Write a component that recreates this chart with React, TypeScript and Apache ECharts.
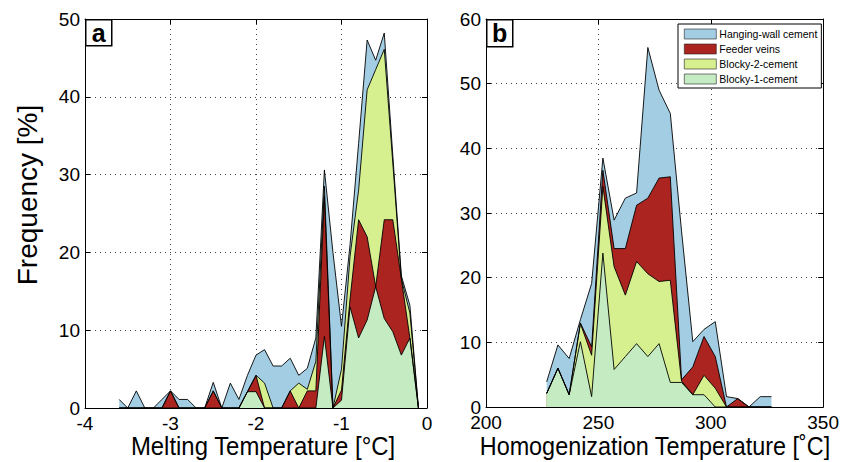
import React, { useEffect, useRef } from "react";
import * as echarts from "echarts";

// ---- Panel a: melting temperature bins (°C), frequency of each layer (%) ----
const meltBins = [-3.6, -3.5, -3.4, -3.3, -3.2, -3.1, -3.0, -2.9, -2.8, -2.7, -2.6, -2.5, -2.4, -2.3, -2.2, -2.1, -2.0, -1.9, -1.8, -1.7, -1.6, -1.5, -1.4, -1.3, -1.2, -1.1, -1.0, -0.9, -0.8, -0.7, -0.6, -0.5, -0.4, -0.3, -0.2, -0.1];
const meltBlocky1 = [0, 0, 0, 0, 0, 0, 0, 0, 0, 0, 0, 0, 0, 0, 0, 2.1, 2.1, 0, 0, 0, 0, 0, 0, 0, 9.2, 0, 1.0, 13, 9, 11.3, 15.6, 11.5, 9.8, 6.8, 9.0, 0];
const meltFeeder = [0, 0, 0, 0, 0, 0, 2.2, 0, 0, 0, 0, 2.2, 0, 0, 0, 0, 2.1, 0, 0, 0, 2.2, 0, 2.2, 2.2, 18.0, 0, 1.3, 1.0, 15.2, 10.7, 0, 12.7, 14.4, 9.8, 0, 0];
const meltBlocky2 = [0, 0, 0, 0, 0, 0, 0, 0, 0, 0, 0, 0, 0, 0, 0, 0, 0, 3.2, 0, 0, 0, 3.2, 0.2, 3.8, 1.3, 0, 2.7, 5.5, 3.8, 18.9, 27.9, 21.9, 7.3, 0, 3.2, 0];
const meltHanging = [1.1, 0, 2.2, 0, 0, 1.1, 0, 1.1, 1.1, 0, 0, 1.1, 0, 3.2, 1.1, 2.1, 2.6, 4.3, 5.4, 5.4, 4.2, 1.0, 2.7, 3.0, 2.1, 20, 5.5, 1.5, 6, 6.4, 1.2, 2.1, 1.0, 0.4, 1.0, 0];

// ---- Panel b: homogenization temperature bins (°C), frequency of each layer (%) ----
const homBins = [227, 232, 237, 242, 247, 252, 257, 262, 267, 272, 277, 282, 287, 292, 297, 302, 307, 312, 317, 322, 327];
const homBlocky1 = [2.1, 6.0, 1.9, 10.1, 1.6, 23.8, 5.8, 7.8, 9.8, 7.8, 9.8, 3.8, 3.8, 1.9, 1.9, 0, 0, 0, 0, 0, 0];
const homBlocky2 = [0, 0, 0, 2.8, 6.4, 10.3, 15.9, 9.5, 12.7, 12.8, 9.6, 15.8, 0.2, 0, 3.0, 2.9, 0, 0, 0, 0, 0];
const homFeeder = [0, 0, 0, 0.1, 1.3, 2.5, 2.8, 7.2, 8.7, 11.7, 16.0, 16.0, 0.2, 4.3, 6.0, 4.9, 0, 1.3, 0, 0, 0];
const homHanging = [1.8, 3.6, 5.6, 0.5, 9.8, 1.9, 4.4, 7.8, 1.9, 23.3, 13.6, 9.8, 23, 3.9, 1.1, 5.4, 1.6, 0, 0, 1.6, 1.6];

const meltTicks = [-4, -3, -2, -1, 0];
const homTicks = [200, 250, 300, 350];
const meltFreqTicks = [0, 10, 20, 30, 40, 50];
const homFreqTicks = [0, 10, 20, 30, 40, 50, 60];

const NAMES = {
  hw: "Hanging-wall cement",
  fv: "Feeder veins",
  b2: "Blocky-2-cement",
  b1: "Blocky-1-cement",
};
const COLORS: Record<string, string> = {
  [NAMES.hw]: "#a3cde3",
  [NAMES.fv]: "#ab2420",
  [NAMES.b2]: "#d7f08f",
  [NAMES.b1]: "#c4ebc2",
};

const SANS = "'Liberation Sans', Arial, Helvetica, sans-serif";

// stacked areas: layers listed bottom -> top; cumulative tops drawn back (top layer) to front (bottom layer)
function stackSeries(panel: string, axis: number, xs: number[], layers: { name: string; values: number[] }[]) {
  const tops: number[][] = [];
  let run = xs.map(() => 0);
  layers.forEach((l) => {
    run = run.map((v, i) => +(v + l.values[i]).toFixed(3));
    tops.push(run);
  });
  const fills: any[] = [];
  const edges: any[] = [];
  for (let k = layers.length - 1; k >= 0; k--) {
    const l = layers[k];
    const data = xs.map((x, i) => [x, tops[k][i]]);
    fills.push({
      type: "line",
      name: l.name,
      xAxisIndex: axis,
      yAxisIndex: axis,
      data,
      symbol: "none",
      showSymbol: false,
      lineStyle: { width: 0, color: COLORS[l.name] },
      itemStyle: { color: COLORS[l.name] },
      areaStyle: { color: COLORS[l.name], opacity: 1 },
      z: 2 + (layers.length - k) * 0.01,
      silent: true,
    });
    edges.push({
      type: "line",
      name: panel + "-edge-" + k,
      xAxisIndex: axis,
      yAxisIndex: axis,
      data,
      symbol: "none",
      showSymbol: false,
      lineStyle: { width: 0.9, color: "#000" },
      z: 4,
      silent: true,
    });
  }
  return [...fills, ...edges];
}

function axisFor(grid: number, ticks: number[], isX: boolean, labelsShown: boolean, pos: string) {
  return {
    type: "value",
    gridIndex: grid,
    min: ticks[0],
    max: ticks[ticks.length - 1],
    interval: ticks[1] - ticks[0],
    position: pos,
    axisLine: { show: true, onZero: false, lineStyle: { color: "#000", width: 1 } },
    axisTick: { show: true, inside: true, length: 5, lineStyle: { color: "#000" } },
    axisLabel: {
      show: labelsShown,
      color: "#000",
      fontSize: 19,
      fontFamily: SANS,
      margin: isX ? 6 : 5,
    },
    splitLine: {
      show: labelsShown,
      lineStyle: { color: "#444", type: [1, 4], width: 1 },
    },
  };
}

export default function App() {
  const ref = useRef<HTMLDivElement>(null);
  useEffect(() => {
    if (!ref.current) return;
    const chart = echarts.init(ref.current, undefined, { renderer: "svg" });

    const series = [
      ...stackSeries("a", 0, meltBins, [
        { name: NAMES.b1, values: meltBlocky1 },
        { name: NAMES.fv, values: meltFeeder },
        { name: NAMES.b2, values: meltBlocky2 },
        { name: NAMES.hw, values: meltHanging },
      ]),
      ...stackSeries("b", 2, homBins, [
        { name: NAMES.b1, values: homBlocky1 },
        { name: NAMES.b2, values: homBlocky2 },
        { name: NAMES.fv, values: homFeeder },
        { name: NAMES.hw, values: homHanging },
      ]),
    ];

    const option: any = {
      animation: false,
      backgroundColor: "#fff",
      grid: [
        { left: 85, top: 19, width: 342, height: 389, show: false },
        { left: 486, top: 19, width: 341, height: 388, show: false },
      ],
      xAxis: [
        axisFor(0, meltTicks, true, true, "bottom"),
        axisFor(0, meltTicks, true, false, "top"),
        axisFor(1, homTicks, true, true, "bottom"),
        axisFor(1, homTicks, true, false, "top"),
      ],
      yAxis: [
        axisFor(0, meltFreqTicks, false, true, "left"),
        axisFor(0, meltFreqTicks, false, false, "right"),
        axisFor(1, homFreqTicks, false, true, "left"),
        axisFor(1, homFreqTicks, false, false, "right"),
      ],
      legend: {
        data: [NAMES.hw, NAMES.fv, NAMES.b2, NAMES.b1],
        orient: "vertical",
        left: 678,
        top: 24,
        icon: "rect",
        itemWidth: 32,
        itemHeight: 10,
        itemGap: 3,
        padding: [4, 4, 3, 6],
        backgroundColor: "#fff",
        borderColor: "#000",
        borderWidth: 1,
        selectedMode: false,
        itemStyle: { borderColor: "#222", borderWidth: 0.6 },
        textStyle: { fontSize: 10.5, lineHeight: 12, fontFamily: SANS, color: "#000", padding: [0, 0, 0, -2] },
      },
      graphic: [
        {
          type: "group",
          left: 85,
          top: 19,
          children: [
            { type: "rect", shape: { x: 0, y: 0, width: 26, height: 26 }, style: { fill: "#fff", stroke: "#000", lineWidth: 1.5 } },
            { type: "text", x: 13, y: 13, style: { text: "a", fill: "#000", font: "bold 25px " + SANS, align: "center", verticalAlign: "middle" } },
          ],
        },
        {
          type: "group",
          left: 486,
          top: 19,
          children: [
            { type: "rect", shape: { x: 0, y: 0, width: 26, height: 27 }, style: { fill: "#fff", stroke: "#000", lineWidth: 1.5 } },
            { type: "text", x: 13, y: 13.5, style: { text: "b", fill: "#000", font: "bold 25px " + SANS, align: "center", verticalAlign: "middle" } },
          ],
        },
        {
          type: "text",
          x: 263,
          y: 446,
          scaleX: 0.92,
          style: { text: "Melting Temperature [°C]", fill: "#000", font: "26px " + SANS, align: "center", verticalAlign: "middle" },
        },
        {
          type: "text",
          x: 655,
          y: 446,
          scaleX: 0.9,
          style: { text: "Homogenization Temperature [˚C]", fill: "#000", font: "26px " + SANS, align: "center", verticalAlign: "middle" },
        },
        {
          type: "text",
          x: 27,
          y: 195,
          rotation: Math.PI / 2,
          style: { text: "Frequency [%]", fill: "#000", font: "28px " + SANS, align: "center", verticalAlign: "middle" },
        },
      ],
      series,
    };
    chart.setOption(option);
    return () => chart.dispose();
  }, []);
  return <div ref={ref} style={{ position: "fixed", left: 0, top: 0, width: 842, height: 462 }} />;
}
